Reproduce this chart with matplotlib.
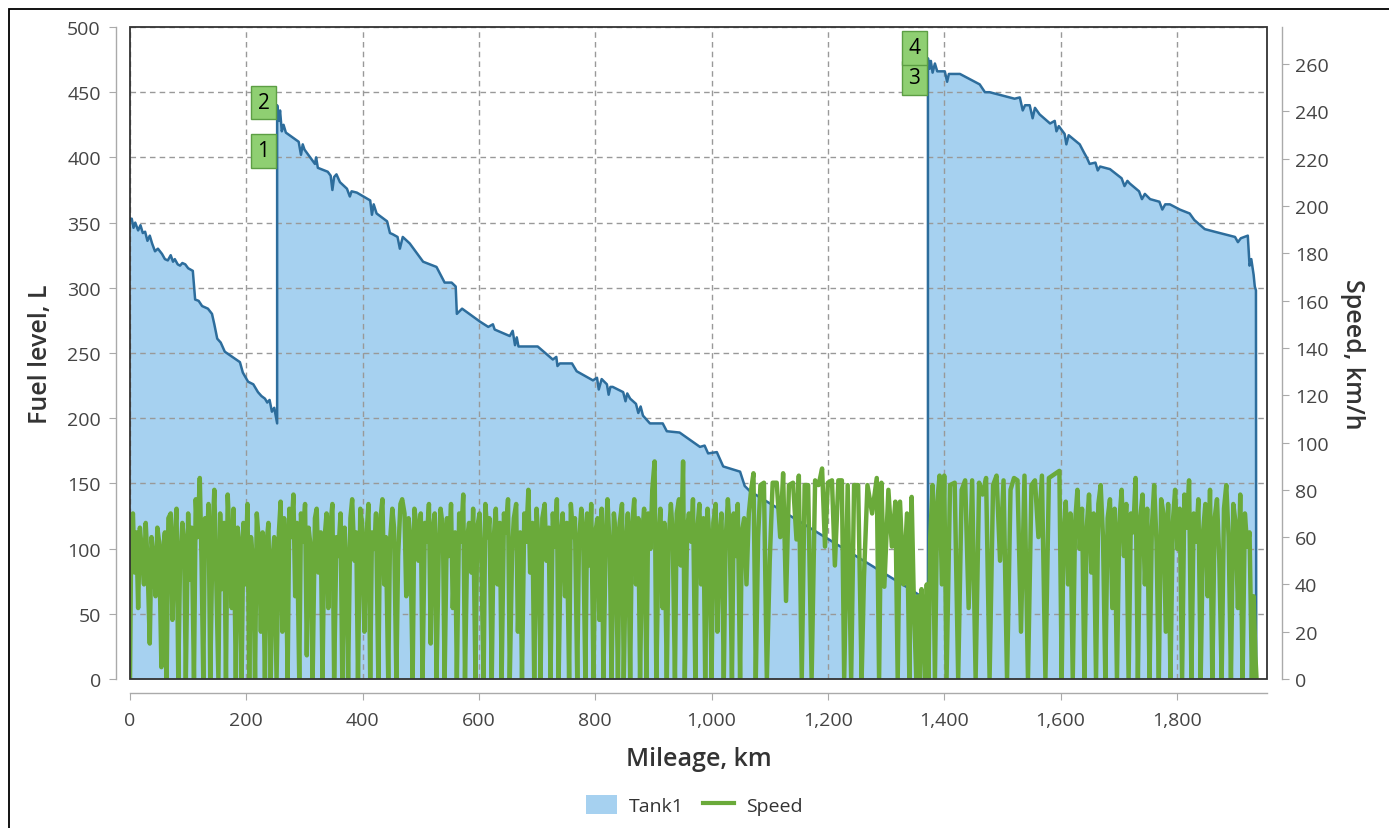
#!/usr/bin/env python3
# -*- coding: utf-8 -*-
import matplotlib
matplotlib.use("Agg")
import matplotlib.pyplot as plt
from matplotlib.patches import Rectangle, Patch
from matplotlib.lines import Line2D
from matplotlib.ticker import FuncFormatter

plt.rcParams['font.family'] = ['Open Sans', 'DejaVu Sans']

# fuel level in tank 1: (mileage km, level L)
fuel_points = [
    (0, 352), (3, 353), (6, 346), (9, 350), (14, 344), (18, 348), (22, 342), (26, 343),
    (30, 336), (34, 340), (38, 334), (43, 328), (48, 330), (55, 326), (60, 322), (65, 321),
    (70, 325), (74, 320), (77, 322), (82, 318), (86, 317), (90, 319), (95, 318), (100, 315),
    (108, 313), (112, 291), (118, 290), (124, 286), (134, 284), (141, 280), (145, 272),
    (150, 261), (156, 258), (163, 251), (189, 243), (194, 235), (203, 228), (212, 226),
    (220, 220), (226, 217), (232, 215), (236, 212), (240, 214), (244, 205), (248, 208),
    (253, 196),
    (253, 440), (256, 428), (258, 436), (261, 420), (264, 425), (268, 419), (290, 412),
    (294, 402), (297, 410), (300, 406), (318, 395), (320, 400), (323, 392), (340, 389),
    (345, 386), (348, 375), (351, 385), (355, 387), (361, 381), (373, 376), (378, 370),
    (381, 374), (390, 373), (413, 367), (416, 356), (419, 364), (424, 357), (442, 351),
    (447, 342), (452, 341), (460, 339), (464, 330), (469, 339), (481, 334), (504, 320),
    (527, 316), (541, 304), (553, 304), (560, 301), (562, 280), (571, 284), (602, 274),
    (616, 270), (624, 272), (627, 268), (653, 263), (658, 267), (662, 256), (665, 262),
    (668, 255), (679, 255), (701, 255), (727, 245), (733, 247), (735, 240), (739, 242),
    (760, 242), (768, 236), (796, 229), (803, 231), (806, 222), (811, 230), (820, 226),
    (823, 218), (826, 224), (830, 224), (848, 220), (852, 213), (855, 219), (860, 215),
    (870, 211), (874, 204), (878, 209), (882, 202), (894, 196), (916, 196), (923, 190),
    (945, 189), (980, 178), (988, 179), (994, 173), (1009, 174), (1020, 163), (1049, 159),
    (1057, 148), (1066, 144), (1341, 69), (1372, 60),
    (1372, 476), (1375, 468), (1377, 474), (1380, 465), (1384, 472), (1388, 466),
    (1401, 466), (1405, 458), (1408, 464), (1427, 464), (1461, 456), (1470, 450),
    (1478, 450), (1504, 447), (1521, 445), (1530, 446), (1535, 436), (1539, 440),
    (1547, 440), (1552, 430), (1556, 438), (1564, 433), (1582, 426), (1590, 428),
    (1593, 420), (1597, 424), (1607, 418), (1610, 410), (1614, 417), (1633, 410),
    (1640, 404), (1645, 400), (1650, 395), (1660, 396), (1664, 390), (1668, 393),
    (1685, 391), (1705, 384), (1710, 378), (1715, 382), (1719, 380), (1735, 374),
    (1740, 368), (1745, 372), (1754, 368), (1770, 366), (1775, 360), (1780, 364),
    (1788, 364), (1805, 360), (1822, 357), (1830, 352), (1848, 345), (1865, 343),
    (1900, 339), (1905, 335), (1910, 338), (1922, 340), (1925, 317), (1928, 322),
    (1932, 310), (1934, 301), (1936, 298), (1936.5, 0),
]

# speed: (mileage km, km/h)
speed_points = [
    (0, 0), (2, 58), (5, 70), (8, 45), (11, 62), (14, 30), (17, 64), (20, 55), (24, 40),
    (27, 66), (30, 50), (34, 15), (37, 60), (40, 52), (44, 35), (47, 64), (50, 58), (54, 5),
    (57, 55), (60, 62), (63, 0), (66, 68), (70, 70), (73, 25), (77, 60), (80, 72), (83, 0),
    (86, 48), (90, 66), (93, 58), (96, 0), (100, 70), (103, 42), (106, 64), (110, 0),
    (113, 76), (116, 60), (120, 85), (123, 50), (126, 0), (129, 68), (132, 55), (135, 74),
    (138, 0), (142, 62), (145, 80), (148, 45), (152, 0), (155, 70), (158, 38), (162, 66),
    (165, 0), (168, 78), (172, 54), (175, 30), (178, 72), (182, 0), (185, 64), (188, 58),
    (192, 0), (195, 66), (198, 40), (202, 74), (205, 0), (208, 60), (212, 48), (215, 0),
    (218, 70), (222, 56), (225, 20), (228, 62), (232, 0), (235, 58), (238, 66), (242, 0),
    (245, 50), (248, 60), (252, 0),
    (256, 62), (259, 75), (262, 20), (265, 68), (268, 55), (271, 0), (274, 72), (277, 60),
    (281, 78), (284, 35), (287, 66), (291, 0), (294, 70), (297, 58), (301, 74), (304, 10),
    (307, 64), (311, 55), (314, 0), (318, 68), (321, 72), (324, 45), (328, 62), (331, 0),
    (334, 58), (338, 70), (341, 30), (345, 66), (348, 74), (351, 0), (355, 60), (358, 52),
    (362, 70), (365, 0), (369, 64), (372, 48), (375, 0), (379, 68), (382, 76), (386, 50),
    (389, 62), (392, 0), (396, 72), (399, 66), (403, 20), (406, 58), (410, 74), (413, 0),
    (416, 62), (420, 55), (423, 70), (427, 0), (430, 66), (434, 76), (437, 40), (440, 60),
    (444, 0), (447, 58), (451, 72), (454, 64), (458, 0), (461, 52), (465, 74), (468, 76),
    (472, 70), (475, 35), (479, 68), (482, 60), (486, 0), (489, 72), (493, 64), (496, 50),
    (500, 70), (503, 0), (507, 66), (510, 58), (514, 74), (517, 15), (520, 62), (524, 70),
    (527, 0), (531, 56), (534, 72), (538, 64), (541, 0), (545, 68), (548, 52), (552, 74),
    (555, 30), (559, 62), (562, 0), (566, 70), (569, 58), (573, 78), (576, 0), (580, 60),
    (583, 66), (587, 45), (590, 72), (594, 0), (597, 64), (601, 70), (604, 52), (608, 0),
    (611, 74), (615, 60), (618, 68), (622, 0), (625, 58), (629, 72), (632, 40), (636, 66),
    (639, 0), (643, 70), (646, 62), (650, 76), (653, 0), (657, 54), (660, 68), (664, 74),
    (667, 20), (671, 62), (674, 0), (678, 70), (681, 58), (685, 80), (688, 45), (692, 66),
    (695, 0), (699, 72), (702, 60), (706, 0), (709, 68), (713, 74), (716, 50), (720, 64),
    (723, 0), (727, 70), (730, 56), (734, 76), (737, 0), (741, 62), (744, 70), (748, 35),
    (751, 66), (755, 0), (758, 74), (762, 60), (765, 68), (769, 0), (772, 58), (776, 72),
    (779, 64), (783, 0), (786, 70), (790, 48), (793, 74), (797, 0), (800, 62), (804, 68),
    (807, 25), (811, 72), (814, 0), (818, 60), (821, 76), (825, 54), (828, 0), (832, 70),
    (835, 62), (839, 0), (842, 66), (846, 74), (849, 0), (853, 58), (856, 70), (860, 0),
    (863, 64), (867, 76), (870, 40), (874, 68), (877, 0), (881, 62), (884, 72), (888, 0),
    (891, 70), (895, 55), (898, 80), (902, 92), (905, 0), (909, 60), (912, 72), (916, 30),
    (919, 66), (923, 0), (926, 58), (930, 74), (933, 62), (937, 0), (940, 70), (944, 76),
    (947, 48), (951, 92), (954, 0), (958, 64), (961, 70), (965, 58), (968, 76), (972, 0),
    (975, 62), (979, 74), (982, 40), (986, 68), (989, 0), (993, 72), (996, 60), (1000, 0),
    (1003, 66), (1007, 74), (1010, 20), (1014, 62), (1017, 70), (1021, 0), (1024, 58),
    (1028, 76), (1031, 64), (1035, 0), (1038, 70), (1042, 52), (1045, 74), (1049, 0),
    (1052, 62), (1056, 68),
    (1060, 40), (1064, 70), (1068, 80), (1072, 87), (1076, 0), (1080, 60), (1084, 82),
    (1090, 83), (1095, 0), (1100, 50), (1105, 83), (1112, 83), (1118, 60), (1123, 87),
    (1128, 33), (1133, 82), (1140, 83), (1146, 59), (1150, 86), (1155, 0), (1160, 82),
    (1166, 82), (1172, 0), (1178, 84), (1184, 82), (1190, 89), (1195, 56), (1200, 83),
    (1207, 84), (1212, 48), (1218, 84), (1224, 84), (1228, 0), (1234, 82), (1240, 0),
    (1245, 82), (1252, 82), (1258, 0), (1262, 43), (1268, 82), (1276, 70), (1284, 85),
    (1288, 0), (1292, 83), (1297, 39), (1304, 80), (1310, 56), (1316, 75), (1320, 0),
    (1324, 75), (1330, 40), (1336, 70), (1340, 0), (1344, 77), (1348, 30), (1352, 0),
    (1355, 35), (1358, 0), (1361, 38), (1364, 25), (1367, 0), (1370, 40), (1373, 0),
    (1376, 60), (1380, 82), (1384, 0), (1388, 75), (1392, 86), (1396, 40), (1400, 86),
    (1404, 0), (1410, 82), (1418, 83), (1424, 0), (1430, 80), (1436, 84), (1442, 30),
    (1448, 84), (1454, 0), (1460, 83), (1466, 78), (1472, 85), (1478, 0), (1484, 82),
    (1490, 86), (1496, 50), (1502, 84), (1508, 0), (1514, 80), (1520, 85), (1526, 84),
    (1532, 20), (1538, 86), (1544, 0), (1550, 82), (1556, 84), (1562, 60), (1568, 86),
    (1574, 0), (1580, 85), (1586, 86), (1592, 87), (1598, 88), (1602, 0),
    (1605, 60), (1609, 75), (1613, 40), (1617, 70), (1621, 0), (1625, 66), (1629, 80),
    (1633, 55), (1637, 72), (1641, 0), (1645, 64), (1649, 78), (1653, 45), (1657, 70),
    (1661, 0), (1665, 74), (1669, 82), (1673, 60), (1677, 0), (1681, 68), (1685, 76),
    (1689, 30), (1693, 72), (1697, 0), (1701, 66), (1705, 80), (1709, 52), (1713, 74),
    (1717, 0), (1721, 70), (1725, 62), (1729, 85), (1733, 0), (1737, 68), (1741, 78),
    (1745, 40), (1749, 72), (1753, 0), (1757, 64), (1761, 82), (1765, 58), (1769, 0),
    (1773, 76), (1777, 70), (1781, 20), (1785, 74), (1789, 0), (1793, 66), (1797, 80),
    (1801, 55), (1805, 72), (1809, 0), (1813, 78), (1817, 64), (1821, 84), (1825, 0),
    (1829, 70), (1833, 58), (1837, 76), (1841, 0), (1845, 62), (1849, 74), (1853, 35),
    (1857, 80), (1861, 0), (1865, 68), (1869, 76), (1873, 50), (1877, 0), (1881, 72),
    (1885, 82), (1889, 60), (1893, 0), (1897, 74), (1901, 66), (1905, 30), (1909, 78),
    (1913, 0), (1917, 70), (1921, 56), (1925, 62), (1929, 0), (1932, 35), (1935, 10),
    (1937, 0),
]

# refuel / event markers
marker_labels = ['1', '2', '3', '4']
marker_km = [253, 253, 1372, 1372]
marker_level = [405, 442, 461, 484]

FILL = '#a6d1f0'
LINE = '#2d6d9c'
GREEN = '#6aaa3a'
AXIS = '#aaaaaa'
TEXT = '#444444'


def main():
    fuel_km = [p[0] for p in fuel_points]
    fuel_l = [p[1] for p in fuel_points]
    spd_km = [p[0] for p in speed_points]
    spd = [p[1] for p in speed_points]

    W, H = 1389, 829
    fig = plt.figure(figsize=(W / 100, H / 100), dpi=100)
    ax = fig.add_axes([130 / W, 1 - 680 / H, (1267 - 130) / W, (680 - 28) / H])
    ax2 = ax.twinx()

    ax.fill_between(fuel_km, fuel_l, 0, color=FILL, lw=0, zorder=1)
    ax.plot(fuel_km, fuel_l, color=LINE, lw=1.8, zorder=2)
    ax2.plot(spd_km, spd, color=GREEN, lw=3.2, solid_joinstyle='round')

    ax.set_xlim(0, 1955)
    ax.set_ylim(0, 500)
    ax2.set_ylim(0, 275.7)
    ax.set_xticks(range(0, 1801, 200))
    ax.set_yticks(range(0, 501, 50))
    ax2.set_yticks(range(0, 261, 20))
    ax.xaxis.set_major_formatter(FuncFormatter(lambda v, p: f"{int(v):,}"))

    ax.set_axisbelow('line')
    ax.grid(True, ls=(0, (4, 3)), color='#999999', lw=1)

    for s in ['top', 'right']:
        ax.spines[s].set_visible(False)
    for s in ['top', 'left', 'bottom']:
        ax2.spines[s].set_visible(False)
    ax.spines['left'].set_position(('outward', 10))
    ax.spines['bottom'].set_position(('outward', 10))
    ax2.spines['right'].set_position(('outward', 11))
    for sp in [ax.spines['left'], ax.spines['bottom'], ax2.spines['right']]:
        sp.set_color(AXIS)
        sp.set_linewidth(1)

    ax.tick_params(axis='both', length=5, color=AXIS, labelcolor=TEXT, labelsize=14)
    ax.tick_params(axis='y', pad=6)
    ax.tick_params(axis='x', pad=8)
    ax2.tick_params(axis='y', length=5, color=AXIS, labelcolor=TEXT, labelsize=14, pad=4)

    ax.set_xlabel('Mileage, km', fontsize=18, fontweight='semibold', color='#333333', labelpad=12)
    ax.set_ylabel('Fuel level, L', fontsize=18, fontweight='semibold', color='#333333', labelpad=10)
    ax2.set_ylabel('Speed, km/h', fontsize=18, fontweight='semibold', color='#333333',
                   rotation=270, labelpad=26)

    # plot frame
    ax2.add_patch(Rectangle((0, 0), 1, 1, transform=ax2.transAxes, fill=False,
                            ec='#333333', lw=1.3, zorder=10, clip_on=False))

    for lab, km, lv in zip(marker_labels, marker_km, marker_level):
        ax2.annotate(lab, xy=(km, lv * 275.7 / 500), xytext=(-5.5, 0), textcoords='offset points',
                     ha='right', va='center', fontsize=15, color='black', zorder=11,
                     bbox=dict(boxstyle='square,pad=0.3', fc='#8fcf72', ec='#5c9e44', lw=1))

    handles = [Patch(fc=FILL, ec='none'), Line2D([0], [0], color=GREEN, lw=3)]
    leg = fig.legend(handles, ['Tank1', 'Speed'], loc='center', bbox_to_anchor=(0.5, 1 - 806 / H),
                     ncol=2, frameon=False, fontsize=14, handlelength=1.6, handleheight=1.1,
                     columnspacing=1.0, handletextpad=0.6)
    for t in leg.get_texts():
        t.set_color('#333333')

    # outer border of the chart
    fig.patches.append(Rectangle((9 / W, -0.1), 1.2, 1 - 10 / H + 0.1, transform=fig.transFigure,
                                 fill=False, ec='black', lw=1.3))

    fig.savefig('out.png', dpi=100)


if __name__ == '__main__':
    main()
